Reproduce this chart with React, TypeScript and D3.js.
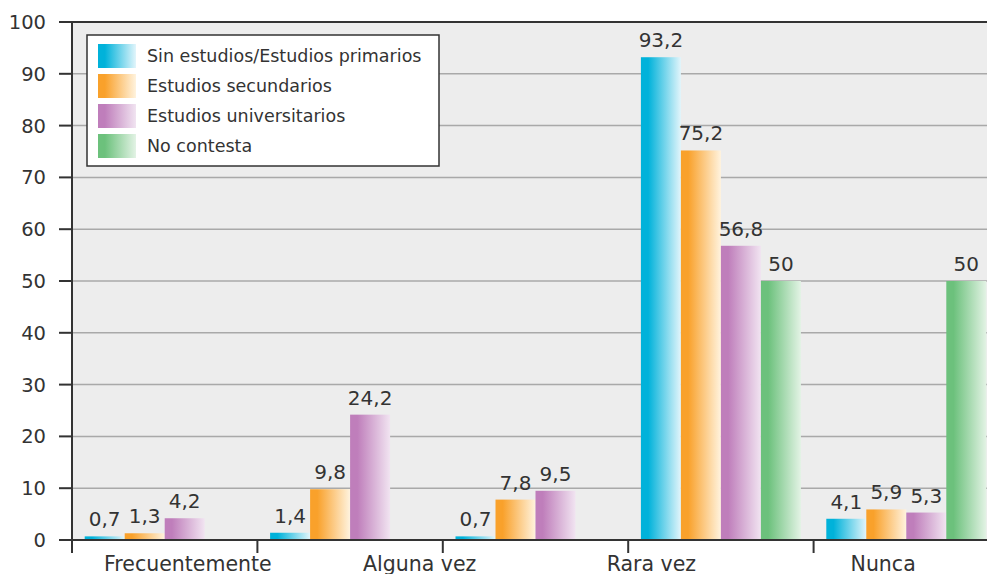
import * as d3 from "d3";
import { useEffect, useRef } from "react";

// bar groups (5 slots) and the category labels printed under the axis (4)
const groupSlots = ["g1", "g2", "g3", "g4", "g5"];
const categoryLabels = ["Frecuentemente", "Alguna vez", "Rara vez", "Nunca"];

const seriesNames = [
  "Sin estudios/Estudios primarios",
  "Estudios secundarios",
  "Estudios universitarios",
  "No contesta",
];

const sinEstudios = [0.7, 1.4, 0.7, 93.2, 4.1];
const secundarios = [1.3, 9.8, 7.8, 75.2, 5.9];
const universitarios = [4.2, 24.2, 9.5, 56.8, 5.3];
const noContesta: (number | null)[] = [null, null, null, 50, 50];

const yTicks = [0, 10, 20, 30, 40, 50, 60, 70, 80, 90, 100];

const seriesColors = [
  { dark: "#00b2da", light: "#e2f5fb" },
  { dark: "#f9a12b", light: "#fff3de" },
  { dark: "#bf7ebb", light: "#f1e4f1" },
  { dark: "#6cc17c", light: "#e3f3e5" },
];

interface Bar {
  group: string;
  series: string;
  idx: number;
  value: number;
}

export default function App() {
  const ref = useRef<SVGSVGElement>(null);

  useEffect(() => {
    if (!ref.current) return;
    const svg = d3.select(ref.current);
    svg.selectAll("*").remove();

    const width = 987;
    const height = 574;
    const left = 72;
    const right = 999;
    const top = 22;
    const bottom = 540;
    const font = "'DejaVu Sans', sans-serif";
    const ink = "#333";

    const x = d3.scaleBand<string>().domain(groupSlots).range([left, right]);
    const xLabel = d3.scaleBand<string>().domain(categoryLabels).range([left, right]);
    const xSub = d3
      .scaleBand<string>()
      .domain(seriesNames)
      .range([0, x.bandwidth()])
      .paddingInner(0)
      .paddingOuter(0.3175);
    const y = d3.scaleLinear().domain([0, 100]).range([bottom, top]);

    svg.attr("viewBox", `0 0 ${width} ${height}`);

    const defs = svg.append("defs");
    seriesColors.forEach((c, i) => {
      const grad = defs
        .append("linearGradient")
        .attr("id", `grad-${i}`)
        .attr("x1", "0%")
        .attr("x2", "100%")
        .attr("y1", "0%")
        .attr("y2", "0%");
      grad.append("stop").attr("offset", "0%").attr("stop-color", c.dark);
      grad.append("stop").attr("offset", "18%").attr("stop-color", c.dark);
      grad.append("stop").attr("offset", "100%").attr("stop-color", c.light);
    });

    // plot background
    svg
      .append("rect")
      .attr("x", left)
      .attr("y", top)
      .attr("width", width - left)
      .attr("height", bottom - top)
      .attr("fill", "#ededed");

    // gridlines
    svg
      .append("g")
      .selectAll("line")
      .data(yTicks.filter((t) => t > 0 && t < 100))
      .join("line")
      .attr("x1", left)
      .attr("x2", width)
      .attr("y1", (d) => y(d))
      .attr("y2", (d) => y(d))
      .attr("stroke", "#a9a9a9")
      .attr("stroke-width", 1.5);

    // top border
    svg
      .append("line")
      .attr("x1", left)
      .attr("x2", width)
      .attr("y1", y(100))
      .attr("y2", y(100))
      .attr("stroke", ink)
      .attr("stroke-width", 2);

    const allSeries = [sinEstudios, secundarios, universitarios, noContesta];
    const bars: Bar[] = [];
    groupSlots.forEach((g, gi) => {
      allSeries.forEach((arr, si) => {
        const v = arr[gi];
        if (v !== null && v !== undefined) {
          bars.push({ group: g, series: seriesNames[si], idx: si, value: v });
        }
      });
    });

    svg
      .append("g")
      .selectAll("rect")
      .data(bars)
      .join("rect")
      .attr("x", (d) => (x(d.group) ?? 0) + (xSub(d.series) ?? 0))
      .attr("y", (d) => y(d.value))
      .attr("width", xSub.bandwidth())
      .attr("height", (d) => y(0) - y(d.value))
      .attr("fill", (d) => `url(#grad-${d.idx})`);

    svg
      .append("g")
      .selectAll("text")
      .data(bars)
      .join("text")
      .attr("x", (d) => (x(d.group) ?? 0) + (xSub(d.series) ?? 0) + xSub.bandwidth() / 2)
      .attr("y", (d) => y(d.value) - 10)
      .attr("text-anchor", "middle")
      .style("font-family", font)
      .style("font-size", "20px")
      .style("fill", ink)
      .text((d) => String(d.value).replace(".", ","));

    // y axis
    const yAxis = svg.append("g");
    yAxis
      .append("line")
      .attr("x1", left)
      .attr("x2", left)
      .attr("y1", top)
      .attr("y2", bottom + 13)
      .attr("stroke", ink)
      .attr("stroke-width", 2);
    yAxis
      .selectAll("line.tick")
      .data(yTicks)
      .join("line")
      .attr("class", "tick")
      .attr("x1", left - 13)
      .attr("x2", left)
      .attr("y1", (d) => y(d))
      .attr("y2", (d) => y(d))
      .attr("stroke", ink)
      .attr("stroke-width", 2);
    yAxis
      .selectAll("text")
      .data(yTicks)
      .join("text")
      .attr("x", 46)
      .attr("y", (d) => y(d))
      .attr("dy", "0.36em")
      .attr("text-anchor", "end")
      .style("font-family", font)
      .style("font-size", "19.5px")
      .style("fill", ink)
      .text((d) => d);

    // x axis
    const xAxis = svg.append("g");
    xAxis
      .append("line")
      .attr("x1", left)
      .attr("x2", width)
      .attr("y1", bottom)
      .attr("y2", bottom)
      .attr("stroke", ink)
      .attr("stroke-width", 2);
    xAxis
      .selectAll("line.tick")
      .data(groupSlots.slice(1))
      .join("line")
      .attr("class", "tick")
      .attr("x1", (d) => x(d) ?? 0)
      .attr("x2", (d) => x(d) ?? 0)
      .attr("y1", bottom)
      .attr("y2", bottom + 13)
      .attr("stroke", ink)
      .attr("stroke-width", 2);
    xAxis
      .selectAll("text")
      .data(categoryLabels)
      .join("text")
      .attr("x", (d) => (xLabel(d) ?? 0) + xLabel.bandwidth() / 2)
      .attr("y", 571)
      .attr("text-anchor", "middle")
      .style("font-family", font)
      .style("font-size", "20.5px")
      .style("fill", ink)
      .text((d) => d);

    // legend
    const legend = svg.append("g").attr("transform", "translate(87,35)");
    legend
      .append("rect")
      .attr("width", 352)
      .attr("height", 131)
      .attr("fill", "#fff")
      .attr("stroke", ink)
      .attr("stroke-width", 1.5);
    const items = legend
      .selectAll("g")
      .data(seriesNames)
      .join("g")
      .attr("transform", (_d, i) => `translate(11,${9 + i * 30})`);
    items
      .append("rect")
      .attr("width", 38)
      .attr("height", 24)
      .attr("fill", (_d, i) => `url(#grad-${i})`);
    items
      .append("text")
      .attr("x", 49)
      .attr("y", 12)
      .attr("dy", "0.36em")
      .style("font-family", font)
      .style("font-size", "17.5px")
      .style("fill", ink)
      .text((d) => d);
  }, []);

  return (
    <svg
      ref={ref}
      width={987}
      height={574}
      style={{ position: "absolute", left: 0, top: 0, background: "#fff" }}
    />
  );
}
